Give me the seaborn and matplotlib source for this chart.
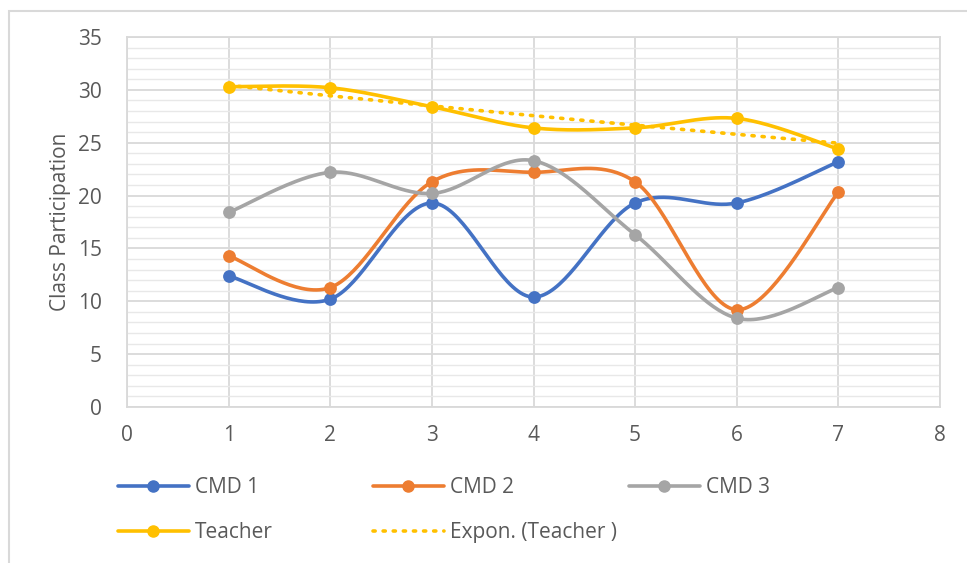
import numpy as np
import pandas as pd
import matplotlib
matplotlib.use("Agg")
import matplotlib.pyplot as plt
from matplotlib.lines import Line2D
from matplotlib.patches import Rectangle
from matplotlib.ticker import MultipleLocator
import seaborn as sns

# Class participation per session
sessions = [1, 2, 3, 4, 5, 6, 7]
cmd1 = [12.4, 10.2, 19.3, 10.4, 19.3, 19.3, 23.2]
cmd2 = [14.3, 11.3, 21.3, 22.2, 21.3, 9.2, 20.3]
cmd3 = [18.4, 22.2, 20.2, 23.3, 16.3, 8.4, 11.3]
teacher = [30.3, 30.2, 28.4, 26.4, 26.4, 27.3, 24.4]

series_names = ["CMD 1", "CMD 2", "CMD 3", "Teacher"]
series_values = [cmd1, cmd2, cmd3, teacher]
colors = ["#4472C4", "#ED7D31", "#A5A5A5", "#FFC000"]

sns.set_theme(style="white")
plt.rcParams["font.family"] = ["Open Sans", "DejaVu Sans"]
TEXT = "#595959"
FS = 15


def smooth(xs, ys, n=40):
    """Catmull-Rom style Bezier smoothing through every point."""
    p = np.column_stack([xs, ys]).astype(float)
    p = np.vstack([p[0], p, p[-1]])
    out = []
    t = np.linspace(0, 1, n)
    for i in range(1, len(p) - 2):
        p0, p1, p2, p3 = p[i - 1], p[i], p[i + 1], p[i + 2]
        c1 = p1 + (p2 - p0) / 6.0
        c2 = p2 - (p3 - p1) / 6.0
        seg = ((1 - t) ** 3)[:, None] * p1 + (3 * (1 - t) ** 2 * t)[:, None] * c1 \
            + (3 * (1 - t) * t ** 2)[:, None] * c2 + (t ** 3)[:, None] * p2
        out.append(seg if i == 1 else seg[1:])
    seg = np.vstack(out)
    return seg[:, 0], seg[:, 1]


fig = plt.figure(figsize=(9.67, 5.63), dpi=100)
ax = fig.add_axes([127 / 967, 1 - 407 / 563, (940 - 127) / 967, (407 - 37) / 563])

# outer chart frame
fig.patches.append(Rectangle((9 / 967, -0.1), 1.2, 1 - 11 / 563 + 0.1, transform=fig.transFigure,
                             fill=False, edgecolor="#d9d9d9", linewidth=1.5, zorder=0))

for name, vals, col in zip(series_names, series_values, colors):
    sx, sy = smooth(sessions, vals)
    sns.lineplot(x=sx, y=sy, sort=False, color=col, linewidth=2.6, ax=ax, zorder=3)
    sns.scatterplot(x=sessions, y=vals, color=col, s=85, edgecolor=col, linewidth=0, ax=ax, zorder=4)

# exponential trendline for the teacher series
b, ln_a = np.polyfit(sessions, np.log(teacher), 1)
tx = np.linspace(sessions[0], sessions[-1], 200)
ty = np.exp(ln_a) * np.exp(b * tx)
sns.lineplot(x=tx, y=ty, color=colors[3], linewidth=2.6, linestyle=(0, (0.6, 2.2)),
             dash_capstyle="round", ax=ax, zorder=5)

ax.set_xlim(0, 8)
ax.set_ylim(0, 35)
ax.xaxis.set_major_locator(MultipleLocator(1))
ax.yaxis.set_major_locator(MultipleLocator(5))
ax.yaxis.set_minor_locator(MultipleLocator(1))
ax.grid(which="major", axis="both", color="#d9d9d9", linewidth=1.3, zorder=0)
ax.grid(which="minor", axis="y", color="#e8e8e8", linewidth=1.0, zorder=0)
ax.set_axisbelow(True)
for sp in ax.spines.values():
    sp.set_color("#d9d9d9")
    sp.set_linewidth(1.3)
ax.tick_params(axis="both", which="both", length=0, labelsize=FS, colors=TEXT)
ax.tick_params(axis="x", pad=13)
ax.tick_params(axis="y", pad=18)
ax.set_xlabel("")
ax.set_ylabel("Class Participation", fontsize=FS, color=TEXT, labelpad=5)

# legend laid out in three columns under the plot
def handle(col, dotted=False):
    if dotted:
        return Line2D([], [], color=col, linewidth=2.6, linestyle=(0, (0.6, 2.2)), dash_capstyle="round")
    return Line2D([], [], color=col, linewidth=2.6, marker="o", markersize=8)

legend_cols = [
    ([handle(colors[0]), handle(colors[3])], ["CMD 1", "Teacher"], 118),
    ([handle(colors[1]), handle(colors[3], dotted=True)], ["CMD 2", "Expon. (Teacher )"], 373),
    ([handle(colors[2])], ["CMD 3"], 629),
]
for hs, labels, x0 in legend_cols:
    fig.legend(hs, labels, loc="upper left", bbox_to_anchor=(x0 / 967, 1 - 477 / 563),
               frameon=False, fontsize=FS, labelcolor=TEXT, handlelength=3.4,
               handletextpad=0.3, labelspacing=1.15, borderpad=0, borderaxespad=0)

fig.savefig("out.png", dpi=100)
